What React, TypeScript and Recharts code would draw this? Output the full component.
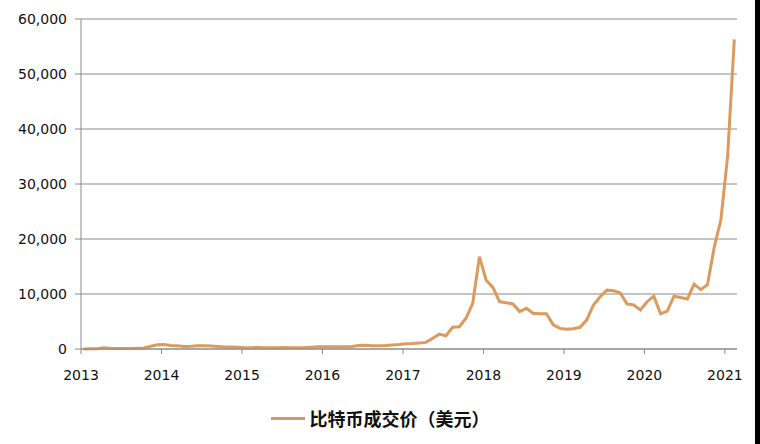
import { LineChart, Line, XAxis, YAxis, CartesianGrid } from "recharts";

// Monthly BTC price (USD), Jan 2013 .. Feb 2021
const years = [2013, 2014, 2015, 2016, 2017, 2018, 2019, 2020, 2021];

const price2013 = [20, 30, 60, 220, 130, 110, 90, 110, 130, 170, 500, 780];
const price2014 = [830, 620, 580, 470, 520, 610, 600, 530, 450, 360, 370, 340];
const price2015 = [250, 240, 270, 240, 240, 240, 280, 250, 235, 270, 340, 420];
const price2016 = [410, 400, 415, 430, 450, 650, 670, 580, 605, 640, 720, 800];
const price2017 = [950, 1000, 1100, 1200, 1900, 2700, 2400, 3950, 4050, 5600, 8300, 16800];
const price2018 = [12500, 11200, 8600, 8400, 8200, 6800, 7400, 6500, 6400, 6400, 4400, 3750];
const price2019 = [3600, 3700, 3950, 5300, 8000, 9500, 10700, 10600, 10200, 8200, 8000, 7100];
const price2020 = [8600, 9600, 6400, 6900, 9600, 9350, 9100, 11800, 10800, 11700, 18500, 23500];
const price2021 = [35000, 56300];

const yTicks = [0, 10000, 20000, 30000, 40000, 50000, 60000];
const seriesName = "比特币成交价（美元）";

const prices = [
  ...price2013,
  ...price2014,
  ...price2015,
  ...price2016,
  ...price2017,
  ...price2018,
  ...price2019,
  ...price2020,
  ...price2021,
];

// points sit a little past the start of each month
const data = prices.map((v, i) => ({ m: i + 0.4, price: v }));
const xTicks = years.map((y) => (y - 2013) * 12);

const LINE = "#DC9A5C";
const AXIS = "#8a8a8a";
const FONT = "'DejaVu Sans', sans-serif";

export default function App() {
  return (
    <div
      style={{
        position: "absolute",
        left: 0,
        top: 0,
        width: 760,
        height: 444,
        background: "#fff",
      }}
    >
      <LineChart
        width={760}
        height={444}
        data={data}
        margin={{ top: 19, right: 23, bottom: 65, left: 0 }}
      >
        <CartesianGrid vertical={false} stroke={AXIS} strokeWidth={1} />
        <XAxis
          dataKey="m"
          type="number"
          domain={[0, 97.8]}
          ticks={xTicks}
          tickFormatter={(v) => String(2013 + v / 12)}
          stroke={AXIS}
          height={30}
          tickSize={5}
          tickMargin={16}
          tick={{ fontFamily: FONT, fontSize: 14, fill: "#111" }}
          interval={0}
          allowDataOverflow
        />
        <YAxis
          width={81}
          domain={[0, 60000]}
          ticks={yTicks}
          tickFormatter={(v) => v.toLocaleString("en-US")}
          stroke={AXIS}
          tickSize={6}
          tickMargin={8}
          tick={{ fontFamily: FONT, fontSize: 14, fill: "#111" }}
          interval={0}
        />
        <Line
          type="linear"
          dataKey="price"
          name={seriesName}
          stroke={LINE}
          strokeWidth={3}
          dot={false}
          isAnimationActive={false}
        />
      </LineChart>
      {/* legend */}
      <div
        style={{
          position: "absolute",
          left: 0,
          top: 405,
          width: 760,
          height: 26,
          display: "flex",
          justifyContent: "center",
          alignItems: "center",
        }}
      >
        <div style={{ width: 34, height: 3, background: "#CC9A6E", marginRight: 5 }} />
        <span
          style={{
            fontFamily: "'Noto Sans CJK SC', sans-serif",
            fontWeight: 700,
            fontSize: 18,
            color: "#111",
          }}
        >
          {seriesName}
        </span>
      </div>
      <div
        style={{
          position: "absolute",
          right: 0,
          top: 0,
          width: 5,
          height: 444,
          background: "#000",
        }}
      />
    </div>
  );
}
